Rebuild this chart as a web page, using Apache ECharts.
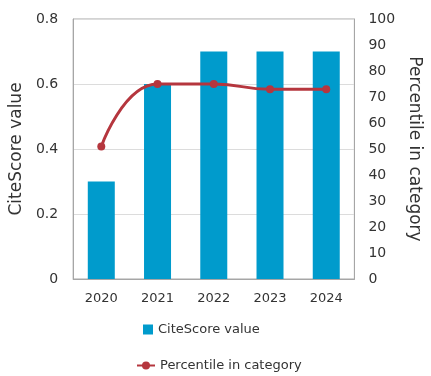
<!DOCTYPE html>
<html>
<head>
<meta charset="utf-8">
<script src="https://cdn.jsdelivr.net/npm/echarts@6/dist/echarts.min.js"></script>
<style>
  html, body { margin: 0; padding: 0; background: #fff; }
  #chart { width: 431px; height: 376px; }
</style>
</head>
<body>
<div id="chart"></div>
<script>
// data
const years = ['2020', '2021', '2022', '2023', '2024']
const citeScore = [0.3, 0.6, 0.7, 0.7, 0.7]
const percentile = [51, 75, 75, 73, 73]

const font = 'DejaVu Sans'
const textColor = '#333'

const chart = echarts.init(document.getElementById('chart'), null, { renderer: 'canvas' })

chart.setOption({
  animation: false,
  textStyle: { fontFamily: font },
  grid: {
    left: 70, right: 70, top: 19, bottom: 97,
    show: true, borderColor: '#a6a6a6', borderWidth: 1
  },
  legend: [
    {
      data: [{ name: 'CiteScore value', icon: 'rect' }],
      left: 138, top: 318, itemWidth: 10, itemHeight: 10,
      textStyle: { fontFamily: font, fontSize: 13, color: textColor }
    },
    {
      data: ['Percentile in category'],
      left: 131, top: 354, itemWidth: 18, itemHeight: 10,
      textStyle: { fontFamily: font, fontSize: 13, color: textColor }
    }
  ],
  xAxis: {
    type: 'category',
    data: years,
    axisTick: { show: false },
    axisLine: { lineStyle: { color: '#a6a6a6' } },
    axisLabel: { color: textColor, fontSize: 13, margin: 13 }
  },
  yAxis: [
    {
      type: 'value', min: 0, max: 0.8, interval: 0.2,
      name: 'CiteScore value', nameLocation: 'middle', nameGap: 41,
      nameTextStyle: { fontSize: 17, color: textColor, fontFamily: font },
      axisLine: { show: true, lineStyle: { color: '#a6a6a6' } },
      axisLabel: {
        color: textColor, fontSize: 14, margin: 15,
        formatter: v => (v === 0 ? '0' : v.toFixed(1))
      },
      splitLine: { lineStyle: { color: '#dcdcdc' } }
    },
    {
      type: 'value', min: 0, max: 100, interval: 10,
      name: 'Percentile in category', nameLocation: 'middle', nameGap: 39, nameRotate: -90,
      nameTextStyle: { fontSize: 17, color: textColor, fontFamily: font },
      axisLine: { show: true, lineStyle: { color: '#a6a6a6' } },
      axisLabel: { color: textColor, fontSize: 14, margin: 14 },
      splitLine: { show: false }
    }
  ],
  series: [
    {
      name: 'CiteScore value',
      type: 'bar',
      data: citeScore,
      barWidth: 27,
      itemStyle: { color: '#009bcc' }
    },
    {
      name: 'Percentile in category',
      type: 'line',
      yAxisIndex: 1,
      data: percentile,
      smooth: true,
      symbol: 'circle',
      symbolSize: 8,
      lineStyle: { color: '#b5363e', width: 3 },
      itemStyle: { color: '#b5363e' }
    }
  ]
})
</script>
</body>
</html>
